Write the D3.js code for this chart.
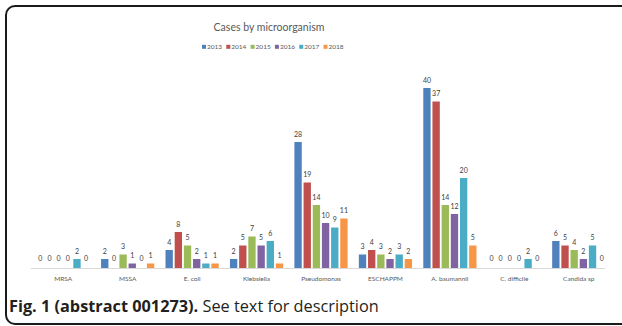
<!DOCTYPE html>
<html>
<head>
<meta charset="utf-8">
<script src="https://cdn.jsdelivr.net/npm/d3@7/dist/d3.min.js"></script>
<style>
  html, body { margin: 0; padding: 0; background: #fff; }
  svg { display: block; }
</style>
</head>
<body>
<svg id="chart" width="622" height="326"></svg>
<script>
// data
var organisms = ['MRSA', 'MSSA', 'E. coli', 'Klebsiella', 'Pseudomonas',
  'ESCHAPPM', 'A. baumannii', 'C. difficile', 'Candida sp'];
var years = ['2013', '2014', '2015', '2016', '2017', '2018'];
var cases2013 = [0, 2, 4, 2, 28, 3, 40, 0, 6];
var cases2014 = [0, 0, 8, 5, 19, 4, 37, 0, 5];
var cases2015 = [0, 3, 5, 7, 14, 3, 14, 0, 4];
var cases2016 = [0, 1, 2, 5, 10, 2, 12, 0, 2];
var cases2017 = [2, 0, 1, 6, 9, 3, 20, 2, 5];
var cases2018 = [0, 1, 1, 1, 11, 2, 5, 0, 0];
var yearColors = ['#4f81bd', '#c0504d', '#9bbb59', '#8064a2', '#4bacc6', '#f79646'];

var series = [cases2013, cases2014, cases2015, cases2016, cases2017, cases2018];

var svg = d3.select('#chart');
var chartFont = 'Lato, "Open Sans", sans-serif';

// frame (right edge runs off the picture)
svg.append('rect')
  .attr('x', 6).attr('y', 6)
  .attr('width', 660).attr('height', 318)
  .attr('rx', 9)
  .attr('fill', 'none')
  .attr('stroke', '#1a1a1a')
  .attr('stroke-width', 2);

var x = d3.scaleBand()
  .domain(organisms)
  .range([31, 611]);

var xYear = d3.scaleBand()
  .domain(years)
  .range([-26.6, 26.6])
  .paddingInner(0.2);

var y = d3.scaleLinear()
  .domain([0, 40])
  .range([268, 88]);

// title
svg.append('text')
  .attr('x', 269).attr('y', 31)
  .attr('text-anchor', 'middle')
  .attr('font-family', chartFont)
  .attr('font-size', 10.5)
  .attr('fill', '#595959')
  .text('Cases by microorganism');

// legend
var legend = svg.append('g')
  .selectAll('g')
  .data(years)
  .enter()
  .append('g')
  .attr('transform', function (d, i) {
    return 'translate(' + (202 + i * 24.3) + ', 47)';
  });

legend.append('rect')
  .attr('x', 0).attr('y', -2.2)
  .attr('width', 4).attr('height', 4)
  .attr('fill', function (d, i) { return yearColors[i]; });

legend.append('text')
  .attr('x', 5).attr('y', 2.2)
  .attr('font-family', chartFont)
  .attr('font-size', 6.5)
  .attr('fill', '#595959')
  .text(function (d) { return d; });

// baseline
svg.append('line')
  .attr('x1', x.range()[0]).attr('x2', 605)
  .attr('y1', y(0) + 0.5).attr('y2', y(0) + 0.5)
  .attr('stroke', '#d9d9d9')
  .attr('stroke-width', 1);

// bars
var groups = svg.append('g')
  .selectAll('g')
  .data(organisms)
  .enter()
  .append('g')
  .attr('transform', function (d) {
    return 'translate(' + (x(d) + x.bandwidth() / 2) + ', 0)';
  });

var cells = groups.selectAll('g')
  .data(function (d, i) {
    return years.map(function (yr, j) {
      return {year: yr, value: series[j][i], color: yearColors[j]};
    });
  })
  .enter()
  .append('g');

cells.append('rect')
  .attr('x', function (d) { return xYear(d.year); })
  .attr('y', function (d) { return y(d.value); })
  .attr('width', xYear.bandwidth())
  .attr('height', function (d) { return y(0) - y(d.value); })
  .attr('fill', function (d) { return d.color; });

cells.append('text')
  .attr('x', function (d) { return xYear(d.year) + xYear.bandwidth() / 2; })
  .attr('y', function (d) { return y(d.value) - (d.value === 0 ? 7 : 5.5); })
  .attr('text-anchor', 'middle')
  .attr('font-family', chartFont)
  .attr('font-size', 7)
  .attr('fill', '#404040')
  .text(function (d) { return d.value; });

// category labels
svg.append('g')
  .selectAll('text')
  .data(organisms)
  .enter()
  .append('text')
  .attr('x', function (d) { return x(d) + x.bandwidth() / 2; })
  .attr('y', 281)
  .attr('text-anchor', 'middle')
  .attr('font-family', chartFont)
  .attr('font-size', 6.5)
  .attr('fill', '#595959')
  .text(function (d) { return d; });

// caption
var caption = svg.append('text')
  .attr('x', 9).attr('y', 312)
  .attr('font-family', '"Open Sans", sans-serif')
  .attr('font-size', 16.3)
  .attr('fill', '#231f20');

caption.append('tspan')
  .attr('font-weight', 'bold')
  .text('Fig. 1 (abstract 001273).');

caption.append('tspan')
  .text(' See text for description');
</script>
</body>
</html>
